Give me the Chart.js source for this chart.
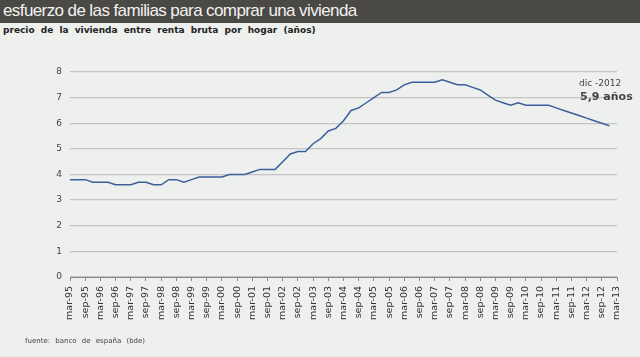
<!DOCTYPE html>
<html>
<head>
<meta charset="utf-8">
<script src="https://cdn.jsdelivr.net/npm/chart.js@4.4.1/dist/chart.umd.min.js"></script>
<style>
  html, body { margin:0; padding:0; }
  body { width:640px; height:357px; background:#edf0ec; position:relative; overflow:hidden; font-family:"DejaVu Sans", Verdana, sans-serif; }
  #bar { position:absolute; left:0; top:0; width:640px; height:23px; background:#4a4944; }
  #title { position:absolute; left:3px; top:1px; font-family:"Liberation Sans", Arial, sans-serif; font-size:17px; letter-spacing:-0.6px; color:#f2f2f2; white-space:nowrap; }
  #sub { position:absolute; left:3px; top:25px; font-size:9px; font-weight:bold; color:#222; white-space:nowrap; word-spacing:3px; }
  #foot { position:absolute; left:25px; top:337px; font-size:7px; color:#444; white-space:nowrap; word-spacing:3px; }
  #a1 { position:absolute; left:579px; top:78px; font-size:9px; color:#444; white-space:nowrap; }
  #a2 { position:absolute; left:580px; top:90px; font-size:11px; font-weight:bold; color:#444; white-space:nowrap; }
  #c { position:absolute; left:0; top:0; }
</style>
</head>
<body>
<div id="bar"></div>
<div id="title">esfuerzo de las familias para comprar una vivienda</div>
<div id="sub">precio de la vivienda entre renta bruta por hogar (años)</div>
<canvas id="c" width="640" height="357"></canvas>
<div id="a1">dic -2012</div>
<div id="a2">5,9 años</div>
<div id="foot">fuente: banco de españa (bde)</div>
<script>
// Quarterly categories (mar-95 ... mar-13)
const quarters = [
  "mar-95","jun-95","sep-95","dic-95","mar-96","jun-96","sep-96","dic-96",
  "mar-97","jun-97","sep-97","dic-97","mar-98","jun-98","sep-98","dic-98",
  "mar-99","jun-99","sep-99","dic-99","mar-00","jun-00","sep-00","dic-00",
  "mar-01","jun-01","sep-01","dic-01","mar-02","jun-02","sep-02","dic-02",
  "mar-03","jun-03","sep-03","dic-03","mar-04","jun-04","sep-04","dic-04",
  "mar-05","jun-05","sep-05","dic-05","mar-06","jun-06","sep-06","dic-06",
  "mar-07","jun-07","sep-07","dic-07","mar-08","jun-08","sep-08","dic-08",
  "mar-09","jun-09","sep-09","dic-09","mar-10","jun-10","sep-10","dic-10",
  "mar-11","jun-11","sep-11","dic-11","mar-12","jun-12","sep-12","dic-12",
  "mar-13"
];
// precio vivienda / renta bruta por hogar (años)
const esfuerzo = [
  3.8,3.8,3.8,3.7,3.7,3.7,3.6,3.6,
  3.6,3.7,3.7,3.6,3.6,3.8,3.8,3.7,
  3.8,3.9,3.9,3.9,3.9,4.0,4.0,4.0,
  4.1,4.2,4.2,4.2,4.5,4.8,4.9,4.9,
  5.2,5.4,5.7,5.8,6.1,6.5,6.6,6.8,
  7.0,7.2,7.2,7.3,7.5,7.6,7.6,7.6,
  7.6,7.7,7.6,7.5,7.5,7.4,7.3,7.1,
  6.9,6.8,6.7,6.8,6.7,6.7,6.7,6.7,
  6.6,6.5,6.4,6.3,6.2,6.1,6.0,5.9,
  null
];
const yTicks = [0,1,2,3,4,5,6,7,8];

new Chart(document.getElementById('c'), {
  type: 'line',
  data: {
    labels: quarters,
    datasets: [{
      data: esfuerzo,
      borderColor: '#3d5f9e',
      borderWidth: 1.5,
      pointRadius: 0,
      tension: 0,
      fill: false
    }]
  },
  options: {
    responsive: false,
    devicePixelRatio: 1,
    animation: false,
    layout: { padding: { top: 72, right: 23, left: 0, bottom: 0 } },
    plugins: { legend: { display: false }, tooltip: { enabled: false } },
    scales: {
      x: {
        type: 'category',
        offset: false,
        afterFit: s => { s.height = 80; },
        grid: { drawOnChartArea: false, drawTicks: true, tickLength: 4, color: '#8a8a8a' },
        border: { display: true, color: '#8a8a8a', width: 1 },
        ticks: {
          autoSkip: false, maxRotation: 90, minRotation: 90, padding: 5,
          color: '#333', font: { family: 'DejaVu Sans', size: 9.5 },
          callback: function(v, i) { return i % 2 === 0 ? quarters[i] : null; }
        }
      },
      y: {
        min: 0, max: 8,
        afterFit: s => { s.width = 70; },
        afterBuildTicks: s => { s.ticks = yTicks.map(v => ({ value: v })); },
        grid: { color: '#c4c4c4', lineWidth: 1.3, drawTicks: false },
        border: { display: false },
        ticks: { padding: 8, color: '#444', font: { family: 'DejaVu Sans', size: 9 } }
      }
    }
  }
});
</script>
</body>
</html>
